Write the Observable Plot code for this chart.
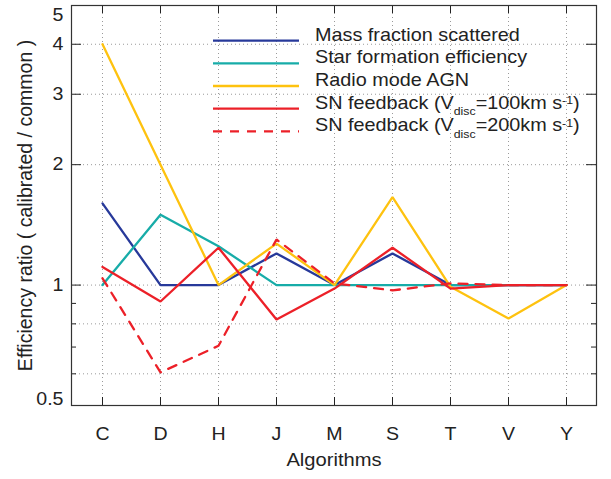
<!DOCTYPE html>
<html><head><meta charset="utf-8">
<script src="https://cdn.jsdelivr.net/npm/d3@7"></script>
<script src="https://cdn.jsdelivr.net/npm/@observablehq/plot@0.6"></script>
<style>body{margin:0;background:#fff} svg{display:block}</style>
</head><body><div id="chart"></div>
<script>
// ---- data ----
const algorithms = ["C","D","H","J","M","S","T","V","Y"];
const massFraction   = [1.60, 1.00, 1.00, 1.20, 1.00, 1.20, 1.00, 1.00, 1.00];
const starFormation  = [1.00, 1.50, 1.25, 1.00, 1.00, 1.00, 1.00, 1.00, 1.00];
const radioAGN       = [4.00, 2.00, 1.00, 1.27, 1.00, 1.66, 0.99, 0.825, 1.00];
const snFeedback100  = [1.11, 0.91, 1.24, 0.82, 0.98, 1.24, 0.98, 1.00, 1.00];
const snFeedback200  = [1.04, 0.605, 0.705, 1.30, 1.01, 0.97, 1.01, 1.00, 1.00];
const seriesColors = ["#27399a", "#17aca8", "#fec20f", "#ec2028", "#ec2028"];
const seriesDash   = [null, null, null, null, "9,8"];
// legend label pieces: [text, kind] kind: n normal, b subscript, p superscript
const legendLabels = [
  [["Mass fraction scattered","n"]],
  [["Star formation efficiency","n"]],
  [["Radio mode AGN","n"]],
  [["SN feedback (V","n"],["disc","b"],["=100km s","n"],["-1","p"],[")","n"]],
  [["SN feedback (V","n"],["disc","b"],["=200km s","n"],["-1","p"],[")","n"]]
];
const yLabelTicks = [1, 2, 3, 4];
const yLowLabel = [0.5];
const yTopLabel = [5];
const yGridTicks = [0.6, 0.8, 1, 2, 3, 4];
const yMajorTicks = [0.5, 1, 2, 3, 4, 5];
const yMinorTicks = [0.6, 0.7, 0.8, 0.9];
const xTitle = "Algorithms";
const yTitle = "Efficiency ratio ( calibrated / common )";

// ---- layout ----
const W = 611, H = 479, mL = 71, mR = 15, mT = 5, mB = 74;
const frameW = W - mL - mR, frameH = H - mT - mB;
const font = "'Liberation Sans', Arial, Helvetica, sans-serif";
const allSeries = [massFraction, starFormation, radioAGN, snFeedback100, snFeedback200];
const rows = [];
allSeries.forEach((vals, s) => vals.forEach((v, i) => rows.push({series: s, alg: algorithms[i], value: v})));

const tickStroke = "#222";
const marks = [
  Plot.gridX(algorithms, {stroke: "#9a9a9a", strokeOpacity: 1, strokeDasharray: "1,3"}),
  Plot.gridY(yGridTicks, {stroke: "#9a9a9a", strokeOpacity: 1, strokeDasharray: "1,3"}),
];
allSeries.forEach((_, s) => {
  marks.push(Plot.line(rows.filter(d => d.series === s), {
    x: "alg", y: "value", stroke: seriesColors[s], strokeWidth: 2.3,
    strokeDasharray: seriesDash[s], strokeLinejoin: "miter"
  }));
});
marks.push(
  Plot.ruleX(algorithms, {x: d => d, insetTop: frameH - 8, stroke: tickStroke}),
  Plot.ruleX(algorithms, {x: d => d, insetBottom: frameH - 8, stroke: tickStroke}),
  Plot.ruleY(yMajorTicks, {y: d => d, insetRight: frameW - 10, stroke: tickStroke}),
  Plot.ruleY(yMajorTicks, {y: d => d, insetLeft: frameW - 10, stroke: tickStroke}),
  Plot.ruleY(yMinorTicks, {y: d => d, insetRight: frameW - 5, stroke: tickStroke}),
  Plot.ruleY(yMinorTicks, {y: d => d, insetLeft: frameW - 5, stroke: tickStroke}),
  Plot.frame({stroke: "#333", strokeWidth: 1.2}),
  Plot.axisY(yLabelTicks, {tickSize: 0, tickPadding: 8, fontSize: 17.5, tickFormat: d => String(d), label: null}),
  Plot.axisY(yLowLabel, {tickSize: 0, tickPadding: 8, fontSize: 17.5, tickFormat: d => String(d), label: null, dy: -6}),
  Plot.axisY(yTopLabel, {tickSize: 0, tickPadding: 8, fontSize: 17.5, tickFormat: d => String(d), label: null, dy: 9.5}),
  Plot.axisX(algorithms, {tickSize: 0, tickPadding: 22, fontSize: 17.5, label: null}),
  Plot.text([xTitle], {text: d => d, frameAnchor: "bottom", dy: 60, fontSize: 18}),
  Plot.text([yTitle], {text: d => d, frameAnchor: "left", textAnchor: "middle", rotate: -90, dx: -46, fontSize: 19.5})
);

const svg = Plot.plot({
  width: W, height: H,
  marginLeft: mL, marginRight: mR, marginTop: mT, marginBottom: mB,
  style: {fontFamily: font, color: "#222", background: "#fff", overflow: "visible"},
  x: {type: "point", domain: algorithms, padding: 0.5},
  y: {type: "log", domain: [0.5, 5]},
  marks
});
document.getElementById("chart").appendChild(svg);

// ---- legend ----
const legendTop = 40.7, rowH = 22.65;
const lg = d3.select(svg).append("g").attr("font-family", font).attr("fill", "#222");
legendLabels.forEach((parts, i) => {
  const y = legendTop + i * rowH;
  lg.append("line").attr("x1", 213).attr("x2", 299).attr("y1", y).attr("y2", y)
    .attr("stroke", seriesColors[i]).attr("stroke-width", 2.3)
    .attr("stroke-dasharray", seriesDash[i]);
  const t = lg.append("text").attr("x", 315).attr("y", y).attr("dy", "0.36em")
    .attr("font-size", 17.7).attr("text-anchor", "start");
  let shift = 0;
  parts.forEach(([txt, kind]) => {
    const target = kind === "b" ? 6.5 : kind === "p" ? -4.5 : 0;
    const ts = t.append("tspan").text(txt).attr("dy", target - shift);
    if (kind !== "n") ts.attr("font-size", 11);
    shift = target;
  });
});

// ---- horizontal stretch of non-rotated text to match the reference's wide glyphs ----
const k = 1.12;
const svgRect = svg.getBoundingClientRect();
svg.querySelectorAll("text").forEach(el => {
  const tr = el.getAttribute("transform") || "";
  if (/rotate\(-90/.test(tr)) return;
  const r = el.getBoundingClientRect();
  const anchor = getComputedStyle(el).textAnchor;
  let ax = anchor === "end" ? r.right : anchor === "middle" ? (r.left + r.right) / 2 : r.left;
  ax -= svgRect.left;
  const m = el.parentNode.getCTM();
  const px = (ax - m.e) / m.a;
  el.setAttribute("transform", `translate(${px},0) scale(${k},1) translate(${-px},0) ${tr}`);
});
</script></body></html>
